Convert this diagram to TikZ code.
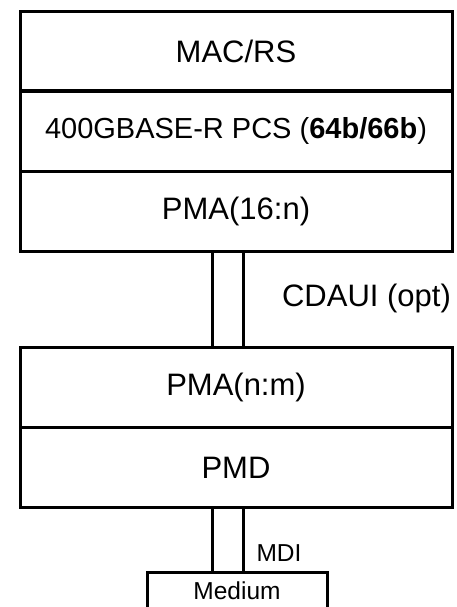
\documentclass[tikz,border=0pt]{standalone}
\usepackage{fontspec}
\setmainfont{Liberation Sans}
\usetikzlibrary{calc}
\usetikzlibrary{positioning}

\tikzset{
	layer/.style={draw, line width=3pt, minimum width=432pt, minimum height=80pt,
	              inner sep=0pt, font=\fontsize{31}{36}\selectfont},
	link/.style={line width=3pt},
	small/.style={font=\fontsize{24.5}{28}\selectfont}
}

\begin{document}
\begin{tikzpicture}[x=1pt, y=-1pt]
	\useasboundingbox (0,0) rectangle (456,607);

	% upper stack
	\node[layer] 	(macrs) 	at (236,51.5) {MAC/RS};
	\node[layer, font=\fontsize{29}{34}\selectfont]
	                (pcs) 		at (236,131) {400GBASE-R PCS (\textbf{64b/66b})};
	\node[layer] 	(pma16) 	at (236,211) {PMA(16:n)};

	% lower stack
	\node[layer] 	(pmanm) 	at (236,387.5) {PMA(n:m)};
	\node[layer] 	(pmd) 		at (236,467.5) {PMD};
	\node[draw, line width=3pt, small, minimum width=180pt, minimum height=38pt,
	      inner sep=0pt] (medium) at (237,591) {Medium};

	% interfaces
	\draw[link] ([xshift=-24pt]pma16.south) -- ([xshift=-24pt]pmanm.north);
	\draw[link] ([xshift=7pt]pma16.south) -- ([xshift=7pt]pmanm.north);
	\draw[link] ([xshift=-24pt]pmd.south) -- ([xshift=-24pt]pmd.south |- medium.north);
	\draw[link] ([xshift=7pt]pmd.south) -- ([xshift=7pt]pmd.south |- medium.north);

	\node[font=\fontsize{31}{36}\selectfont] (cdaui) at (366.5,298) {CDAUI (opt)};
	\node[small] (mdi) at (279,553) {MDI};
\end{tikzpicture}
\end{document}
